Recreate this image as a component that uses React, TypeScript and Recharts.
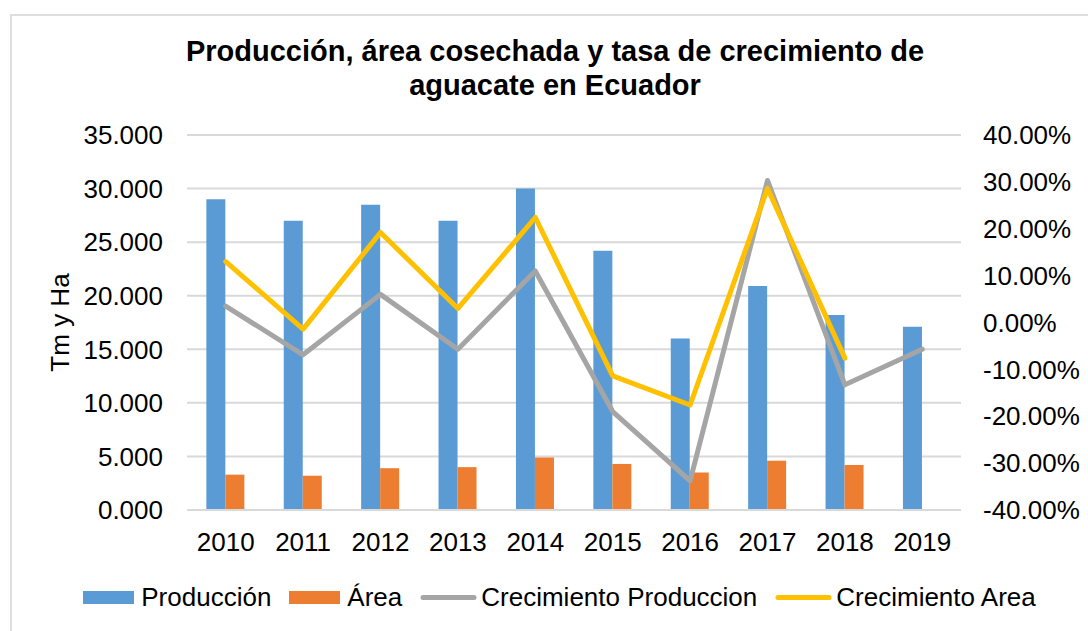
import { Bar, CartesianGrid, ComposedChart, Legend, Line, XAxis, YAxis } from "recharts";

const years = ["2010", "2011", "2012", "2013", "2014", "2015", "2016", "2017", "2018", "2019"];
const produccion = [29000, 27000, 28500, 27000, 30000, 24200, 16000, 20900, 18200, 17100];
const area: Array<number | null> = [3300, 3200, 3900, 4000, 4900, 4300, 3500, 4600, 4200, null];
// growth rates in percent
const crecProduccion = [3.5, -6.9, 6.0, -5.7, 11.0, -19.0, -33.8, 30.3, -13.3, -5.7];
const crecArea: Array<number | null> = [13.0, -1.4, 19.2, 3.0, 22.4, -11.4, -17.6, 28.6, -7.6, null];

const leftTicks = [0, 5000, 10000, 15000, 20000, 25000, 30000, 35000];
const rightTicks = [-40, -30, -20, -10, 0, 10, 20, 30, 40];
const legendOrder = ["Producción", "Área", "Crecimiento Produccion", "Crecimiento Area"];

const data = years.map((year, i) => ({
  year,
  produccion: produccion[i],
  area: area[i],
  crecProduccion: crecProduccion[i],
  crecArea: crecArea[i],
}));

const FONT = '"Liberation Sans", Arial, sans-serif';
const tickStyle = { fontSize: 26, fill: "#000", fontFamily: FONT };

function LegendContent({ payload }: any) {
  const items = [...(payload || [])].sort(
    (a: any, b: any) => legendOrder.indexOf(a.value) - legendOrder.indexOf(b.value)
  );
  return (
    <div style={{ display: "flex", justifyContent: "center", alignItems: "center", height: 30, fontFamily: FONT, fontSize: 26, color: "#000" }}>
      {items.map((p: any, i: number) => (
        <div key={p.value} style={{ display: "flex", alignItems: "center", marginLeft: i === 0 ? 0 : 18 }}>
          {p.type === "line" ? (
            <svg width={57} height={13} style={{ marginRight: 4 }}>
              <line x1={3} y1={6.5} x2={54} y2={6.5} stroke={p.color} strokeWidth={5} strokeLinecap="round" />
            </svg>
          ) : (
            <div style={{ width: 51, height: 13, background: p.color, marginRight: 7 }} />
          )}
          <span style={{ lineHeight: "30px" }}>{p.value}</span>
        </div>
      ))}
    </div>
  );
}

export default function App() {
  return (
    <div style={{ position: "absolute", left: 0, top: 0, width: 1088, height: 631, overflow: "hidden", background: "#fff" }}>
      <div style={{ position: "absolute", left: 10, top: 14, width: 1200, height: 800, border: "2px solid #dedede" }} />
      <div
        style={{
          position: "absolute",
          left: 0,
          top: 34,
          width: 1110,
          textAlign: "center",
          fontFamily: FONT,
          fontWeight: "bold",
          fontSize: 29,
          lineHeight: "34px",
          color: "#000",
        }}
      >
        Producción, área cosechada y tasa de crecimiento de
        <br />
        aguacate en Ecuador
      </div>
      <ComposedChart
        width={1088}
        height={631}
        data={data}
        margin={{ top: 135, right: 0, bottom: 61, left: 0 }}
        barCategoryGap="25%"
        barGap={0}
        style={{ position: "absolute", left: 0, top: 0 }}
      >
        <CartesianGrid yAxisId="left" vertical={false} stroke="#d9d9d9" strokeWidth={2} />
        <XAxis
          dataKey="year"
          height={60}
          tick={tickStyle}
          tickLine={false}
          axisLine={{ stroke: "#d9d9d9", strokeWidth: 2 }}
          tickMargin={17}
          interval={0}
        />
        <YAxis
          yAxisId="left"
          width={187}
          domain={[0, 35000]}
          ticks={leftTicks}
          tick={tickStyle}
          tickLine={false}
          axisLine={false}
          tickMargin={18}
          tickFormatter={(v: number) => (v / 1000).toFixed(3)}
          label={{ value: "Tm y Ha", angle: -90, position: "center", dx: -34, style: { fontSize: 26, fill: "#000", fontFamily: FONT } }}
        />
        <YAxis
          yAxisId="right"
          orientation="right"
          width={127}
          domain={[-40, 40]}
          ticks={rightTicks}
          tick={tickStyle}
          tickLine={false}
          axisLine={false}
          tickMargin={16}
          tickFormatter={(v: number) => v.toFixed(2) + "%"}
        />
        <Bar yAxisId="left" dataKey="produccion" name="Producción" fill="#5b9bd5" isAnimationActive={false} />
        <Bar yAxisId="left" dataKey="area" name="Área" fill="#ed7d31" isAnimationActive={false} />
        <Line
          yAxisId="right"
          type="linear"
          dataKey="crecProduccion"
          name="Crecimiento Produccion"
          stroke="#a5a5a5"
          strokeWidth={5}
          strokeLinejoin="round"
          strokeLinecap="round"
          dot={false}
          isAnimationActive={false}
        />
        <Line
          yAxisId="right"
          type="linear"
          dataKey="crecArea"
          name="Crecimiento Area"
          stroke="#ffc000"
          strokeWidth={5}
          strokeLinejoin="round"
          strokeLinecap="round"
          dot={false}
          isAnimationActive={false}
        />
        <Legend
          layout="horizontal"
          verticalAlign="middle"
          content={<LegendContent />}
          wrapperStyle={{ top: 582, left: 0, width: 1119 }}
        />
      </ComposedChart>
    </div>
  );
}
